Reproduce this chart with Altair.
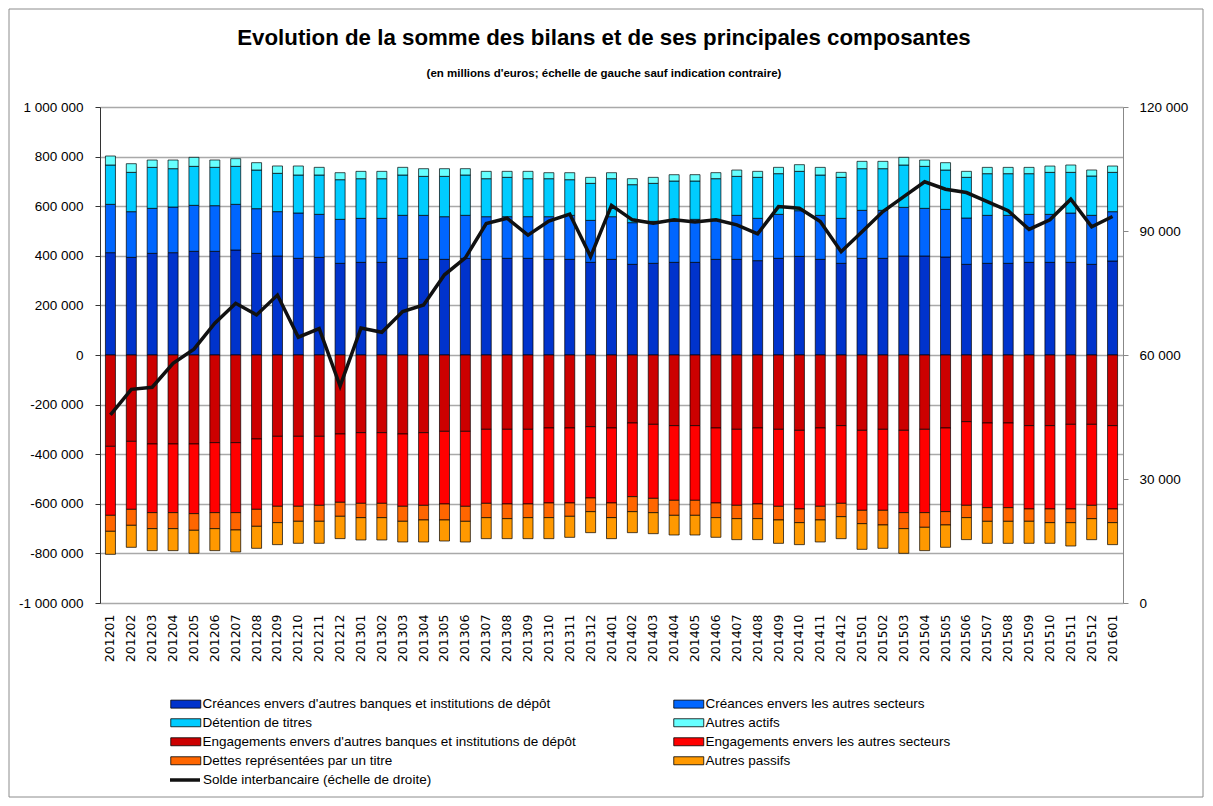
import altair as alt
import pandas as pd

months = ["201201", "201202", "201203", "201204", "201205", "201206", "201207", "201208", "201209", "201210",
          "201211", "201212", "201301", "201302", "201303", "201304", "201305", "201306", "201307", "201308",
          "201309", "201310", "201311", "201312", "201401", "201402", "201403", "201404", "201405", "201406",
          "201407", "201408", "201409", "201410", "201411", "201412", "201501", "201502", "201503", "201504",
          "201505", "201506", "201507", "201508", "201509", "201510", "201511", "201512", "201601"]

# Actif (positive side of the stack)
creances_banques = [412600, 393800, 409900, 412600, 418000, 418000, 423400, 409900, 399200, 389800,
                    393800, 369600, 373600, 373600, 389800, 385700, 385700, 389800, 385700, 389800,
                    389800, 385700, 385700, 373600, 385700, 365600, 369600, 373600, 373600, 385700,
                    385700, 380400, 389800, 397800, 385700, 369600, 389800, 389800, 399200, 399200,
                    395100, 365600, 369600, 369600, 373600, 373600, 373600, 365600, 379000]
creances_secteurs = [194900, 184100, 181400, 184100, 185500, 184100, 184100, 180100, 178800, 182800,
                     173400, 177400, 177400, 177400, 173400, 177400, 172000, 173400, 172000, 168000,
                     168000, 172000, 177400, 169300, 172000, 168000, 169300, 165300, 173400, 161300,
                     177400, 170700, 177400, 184100, 177400, 181400, 193500, 193500, 196200, 192200,
                     192200, 186800, 193500, 193500, 193500, 193500, 198900, 197600, 198900]
detention_titres = [158600, 158600, 165300, 154600, 157200, 154600, 153200, 155900, 154600, 153200,
                    158600, 159900, 159900, 159900, 162600, 157200, 162600, 162600, 153200, 158600,
                    153200, 153200, 143800, 149200, 153200, 153200, 153200, 162600, 154600, 164000,
                    157200, 165300, 164000, 158600, 162600, 165300, 168000, 168000, 170700, 169300,
                    158600, 164000, 168000, 168000, 164000, 169300, 164000, 158600, 158600]
autres_actifs = [36300, 34900, 29600, 34900, 36300, 29600, 30900, 29600, 29600, 36300,
                 30900, 28200, 29600, 29600, 30900, 30900, 30900, 25500, 29600, 24200,
                 29600, 24200, 28200, 24200, 24200, 24200, 24200, 25500, 25500, 24200,
                 25500, 24200, 25500, 26900, 30900, 20200, 29600, 29600, 30900, 25500,
                 29600, 24200, 25500, 25500, 25500, 25500, 29600, 24200, 25500]

# Passif (negative side of the stack)
engagements_banques = [-368300, -348100, -358800, -358800, -358800, -353500, -353500, -338700, -327900, -327900,
                       -327900, -318500, -313200, -313200, -318500, -313200, -307800, -307800, -299700, -299700,
                       -299700, -294300, -294300, -289000, -294300, -274200, -279600, -284900, -284900, -294300,
                       -299700, -294300, -299700, -303700, -294300, -284900, -303700, -299700, -303700, -299700,
                       -294300, -268800, -274200, -274200, -284900, -284900, -279600, -279600, -284900]
engagements_secteurs = [-278200, -274200, -276900, -276900, -280900, -282200, -282200, -283600, -282200, -282200,
                        -278200, -275500, -284900, -284900, -291600, -293000, -293000, -302400, -298400, -301100,
                        -301100, -302400, -302400, -287600, -302400, -297000, -298400, -301100, -301100, -302400,
                        -306400, -306400, -310500, -317200, -315800, -313200, -322600, -326600, -332000, -336000,
                        -337300, -337300, -341400, -341400, -336000, -336000, -341400, -326600, -336000]
dettes_titre = [-64500, -64500, -64500, -64500, -67200, -64500, -69900, -68500, -65900, -60500,
                -64500, -56400, -57800, -57800, -60500, -59100, -64500, -60500, -57800, -59100,
                -55100, -59100, -53800, -55100, -59100, -60500, -57800, -60500, -60500, -59100,
                -53800, -59100, -55100, -55100, -55100, -53800, -53800, -59100, -64500, -59100,
                -53800, -49700, -55100, -55100, -49700, -55100, -55100, -53800, -55100]
autres_passifs = [-92700, -88700, -88700, -88700, -92700, -88700, -88700, -88700, -88700, -88700,
                  -88700, -90000, -90000, -90000, -83300, -88700, -84700, -83300, -84700, -80600,
                  -84700, -84700, -84700, -84700, -84700, -84700, -84700, -79300, -79300, -79300,
                  -84700, -84700, -94100, -88700, -88700, -88700, -103500, -94100, -99500, -94100,
                  -90000, -88700, -88700, -88700, -88700, -83300, -94100, -84700, -88700]

# Right axis
solde_interbancaire = [45500, 51700, 52200, 58000, 61400, 67700, 72500, 69700, 74500, 64300,
                       66400, 52500, 66500, 65500, 70500, 72100, 79400, 83500, 91800, 93100,
                       89000, 92400, 94100, 83800, 96200, 92700, 91900, 92700, 92200, 92700,
                       91500, 89300, 95900, 95500, 92300, 85000, 89800, 94700, 98300, 101900,
                       100100, 99300, 97100, 94900, 90400, 92700, 97700, 91000, 93500]

series_names = [
    "Créances envers d'autres banques et institutions de dépôt",
    "Créances envers les autres secteurs",
    "Détention de titres",
    "Autres actifs",
    "Engagements envers d'autres banques et institutions de dépôt",
    "Engagements envers les autres secteurs",
    "Dettes représentées par un titre",
    "Autres passifs",
]
series_colors = ["#0033CC", "#0066FF", "#00CCFF", "#66FFFF", "#CC0000", "#FF0000", "#FF6600", "#FF9900"]
series_values = [creances_banques, creances_secteurs, detention_titres, autres_actifs,
                 engagements_banques, engagements_secteurs, dettes_titre, autres_passifs]
line_name = "Solde interbancaire (échelle de droite)"
title_text = "Evolution de la somme des bilans et de ses principales composantes"
subtitle_text = "(en millions d'euros; échelle de gauche sauf indication contraire)"

left_ticks = [-1000000, -800000, -600000, -400000, -200000, 0, 200000, 400000, 600000, 800000, 1000000]
right_ticks = [0, 30000, 60000, 90000, 120000]

# legend fills column by column: reorder so it reads row by row as in the reference
legend_order = [0, 2, 4, 6, 1, 3, 5, 7]
legend_domain = [series_names[i] for i in legend_order]
legend_range = [series_colors[i] for i in legend_order]

rows = []
for k, (name, vals) in enumerate(zip(series_names, series_values)):
    for m, v in zip(months, vals):
        rows.append({"mois": m, "serie": name, "valeur": v, "ord": k})
bars_df = pd.DataFrame(rows)
line_df = pd.DataFrame({"mois": months, "solde": solde_interbancaire, "nom": line_name})
one_df = pd.DataFrame({"a": [0]})

W, H = 1023, 496
FONT = "Liberation Sans"
label_expr = "replace(replace(format(datum.value, ','), regexp(',', 'g'), ' '), '\u2212', '-')"

x_axis = alt.Axis(title=None, labelAngle=270, labelAlign="right", labelBaseline="middle",
                  labelPadding=11, ticks=False, domain=False, grid=False,
                  labelFont="DejaVu Sans", labelFontSize=12.5, labelColor="#000")
x_enc = alt.X("mois:N", sort=months, axis=x_axis,
              scale=alt.Scale(paddingInner=0.52, paddingOuter=0.26))

frame = alt.Chart(one_df).mark_rect(filled=False, stroke="#8c8c8c", strokeWidth=1).encode(
    x=alt.value(-91), x2=alt.value(1103), y=alt.value(-98), y2=alt.value(690)
)
title_mark = alt.Chart(one_df).mark_text(
    text=title_text, font=FONT, fontSize=22.3, fontWeight="bold", color="#000",
    align="center", baseline="alphabetic").encode(x=alt.value(504), y=alt.value(-62))
subtitle_mark = alt.Chart(one_df).mark_text(
    text=subtitle_text, font=FONT, fontSize=11.5, fontWeight="bold", color="#000",
    align="center", baseline="alphabetic").encode(x=alt.value(504), y=alt.value(-30))

bars = alt.Chart(bars_df).mark_bar(stroke="#000", strokeWidth=0.7).encode(
    x=x_enc,
    y=alt.Y("valeur:Q", stack="zero",
            scale=alt.Scale(domain=[-1000000, 1000000], nice=False, zero=False),
            axis=alt.Axis(title=None, orient="left", values=left_ticks, labelExpr=label_expr,
                          grid=True, gridColor="#a9a9a9", gridWidth=1.4,
                          domainColor="#333", domainWidth=1, tickColor="#333", tickSize=5,
                          labelPadding=12, labelFont=FONT, labelFontSize=13.5, labelColor="#000")),
    color=alt.Color("serie:N", scale=alt.Scale(domain=legend_domain, range=legend_range),
                    legend=alt.Legend(title=None, orient="none", legendX=79, legendY=590,
                                      columns=2, columnPadding=96, rowPadding=4,
                                      symbolType="M-3,-0.8H3V0.8H-3Z", symbolSize=100,
                                      symbolStrokeColor="#000", symbolStrokeWidth=0.8,
                                      labelOffset=10, labelLimit=600,
                                      labelFont=FONT, labelFontSize=13.5, labelColor="#000")),
    order=alt.Order("ord:Q", sort="ascending"),
)

line = alt.Chart(line_df).mark_line(strokeWidth=3.5).encode(
    x=x_enc,
    y=alt.Y("solde:Q", scale=alt.Scale(domain=[0, 120000], nice=False),
            axis=alt.Axis(title=None, orient="right", values=right_ticks, labelExpr=label_expr,
                          grid=False, domainColor="#888", tickColor="#888", tickSize=5,
                          labelPadding=11, labelFont=FONT, labelFontSize=13.5, labelColor="#000")),
    stroke=alt.Stroke("nom:N", scale=alt.Scale(domain=[line_name], range=["#111111"]),
                      legend=alt.Legend(title=None, orient="none", legendX=68, legendY=656,
                                        symbolType="stroke", symbolSize=900, symbolStrokeWidth=3.5,
                                        labelOffset=1, labelLimit=600,
                                        labelFont=FONT, labelFontSize=13.5, labelColor="#000")),
)

chart = alt.layer(frame, title_mark, subtitle_mark, bars, line).resolve_scale(
    y="independent", color="independent", stroke="independent"
).properties(
    width=W, height=H,
    autosize=alt.AutoSizeParams(type="none"),
    padding={"left": 92, "top": 99, "right": 81, "bottom": 195},
).configure_view(strokeWidth=0).configure(background="white")

chart.save("out.html", embed_options={"renderer": "svg", "actions": False})
